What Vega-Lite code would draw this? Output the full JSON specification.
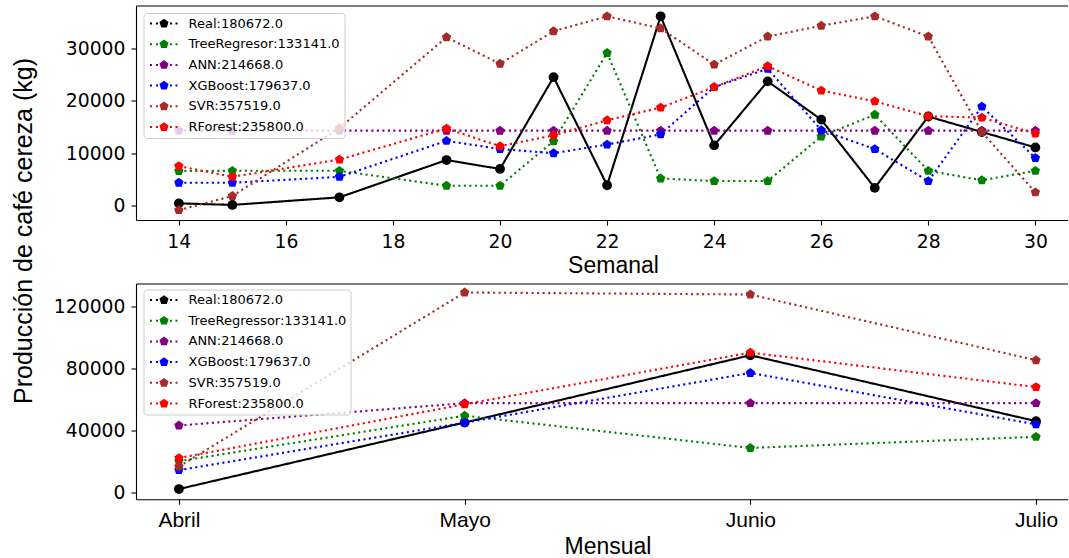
{
  "$schema": "https://vega.github.io/schema/vega-lite/v6.json",
  "padding": {"left": 10, "top": 5.5, "right": 2, "bottom": 58},
  "background": "white",
  "config": {
    "view": {"stroke": null},
    "axis": {"grid": false, "domainColor": "#000", "domainWidth": 1.1, "tickColor": "#000", "tickWidth": 1.1, "tickSize": 5, "labelColor": "#000", "titleColor": "#000", "labelFont": "DejaVu Sans", "labelFontSize": 18.8, "labelOverlap": false, "titleFont": "Liberation Sans", "titleFontWeight": "normal", "titleFontSize": 23},
    "legend": {"orient": "none", "labelFont": "DejaVu Sans", "labelFontSize": 13, "labelColor": "#000", "symbolSize": 64, "labelOffset": 28, "padding": 4, "rowPadding": 6.7, "strokeColor": "#cccccc", "strokeWidth": 1, "fillColor": "rgba(255,255,255,0.8)", "cornerRadius": 3, "symbolStrokeWidth": 0, "symbolOpacity": 1}
  },
  "bounds": "flush",
  "spacing": 63,
  "resolve": {"scale": {"color": "independent"}, "legend": {"color": "independent"}},
  "vconcat": [
    {
      "width": 931.5,
      "height": 214.5,
      "data": {"values": [
        {"semana": 14, "modelo": "Real:180672.0", "valor": 450},
        {"semana": 15, "modelo": "Real:180672.0", "valor": 150},
        {"semana": 17, "modelo": "Real:180672.0", "valor": 1600},
        {"semana": 19, "modelo": "Real:180672.0", "valor": 8700},
        {"semana": 20, "modelo": "Real:180672.0", "valor": 7000},
        {"semana": 21, "modelo": "Real:180672.0", "valor": 24500},
        {"semana": 22, "modelo": "Real:180672.0", "valor": 3900},
        {"semana": 23, "modelo": "Real:180672.0", "valor": 36100},
        {"semana": 24, "modelo": "Real:180672.0", "valor": 11500},
        {"semana": 25, "modelo": "Real:180672.0", "valor": 23700},
        {"semana": 26, "modelo": "Real:180672.0", "valor": 16400},
        {"semana": 27, "modelo": "Real:180672.0", "valor": 3400},
        {"semana": 28, "modelo": "Real:180672.0", "valor": 17000},
        {"semana": 29, "modelo": "Real:180672.0", "valor": 14050},
        {"semana": 30, "modelo": "Real:180672.0", "valor": 11100},
        {"semana": 14, "modelo": "TreeRegresor:133141.0", "valor": 6600},
        {"semana": 15, "modelo": "TreeRegresor:133141.0", "valor": 6650},
        {"semana": 17, "modelo": "TreeRegresor:133141.0", "valor": 6650},
        {"semana": 19, "modelo": "TreeRegresor:133141.0", "valor": 3800},
        {"semana": 20, "modelo": "TreeRegresor:133141.0", "valor": 3800},
        {"semana": 21, "modelo": "TreeRegresor:133141.0", "valor": 12300},
        {"semana": 22, "modelo": "TreeRegresor:133141.0", "valor": 29100},
        {"semana": 23, "modelo": "TreeRegresor:133141.0", "valor": 5200},
        {"semana": 24, "modelo": "TreeRegresor:133141.0", "valor": 4700},
        {"semana": 25, "modelo": "TreeRegresor:133141.0", "valor": 4700},
        {"semana": 26, "modelo": "TreeRegresor:133141.0", "valor": 13200},
        {"semana": 27, "modelo": "TreeRegresor:133141.0", "valor": 17350},
        {"semana": 28, "modelo": "TreeRegresor:133141.0", "valor": 6650},
        {"semana": 29, "modelo": "TreeRegresor:133141.0", "valor": 4850},
        {"semana": 30, "modelo": "TreeRegresor:133141.0", "valor": 6650},
        {"semana": 14, "modelo": "ANN:214668.0", "valor": 14300},
        {"semana": 15, "modelo": "ANN:214668.0", "valor": 14300},
        {"semana": 17, "modelo": "ANN:214668.0", "valor": 14300},
        {"semana": 19, "modelo": "ANN:214668.0", "valor": 14300},
        {"semana": 20, "modelo": "ANN:214668.0", "valor": 14300},
        {"semana": 21, "modelo": "ANN:214668.0", "valor": 14300},
        {"semana": 22, "modelo": "ANN:214668.0", "valor": 14300},
        {"semana": 23, "modelo": "ANN:214668.0", "valor": 14300},
        {"semana": 24, "modelo": "ANN:214668.0", "valor": 14300},
        {"semana": 25, "modelo": "ANN:214668.0", "valor": 14300},
        {"semana": 26, "modelo": "ANN:214668.0", "valor": 14300},
        {"semana": 27, "modelo": "ANN:214668.0", "valor": 14300},
        {"semana": 28, "modelo": "ANN:214668.0", "valor": 14300},
        {"semana": 29, "modelo": "ANN:214668.0", "valor": 14300},
        {"semana": 30, "modelo": "ANN:214668.0", "valor": 14300},
        {"semana": 14, "modelo": "XGBoost:179637.0", "valor": 4370},
        {"semana": 15, "modelo": "XGBoost:179637.0", "valor": 4370},
        {"semana": 17, "modelo": "XGBoost:179637.0", "valor": 5500},
        {"semana": 19, "modelo": "XGBoost:179637.0", "valor": 12350},
        {"semana": 20, "modelo": "XGBoost:179637.0", "valor": 10800},
        {"semana": 21, "modelo": "XGBoost:179637.0", "valor": 10000},
        {"semana": 22, "modelo": "XGBoost:179637.0", "valor": 11650},
        {"semana": 23, "modelo": "XGBoost:179637.0", "valor": 13600},
        {"semana": 24, "modelo": "XGBoost:179637.0", "valor": 22600},
        {"semana": 25, "modelo": "XGBoost:179637.0", "valor": 26100},
        {"semana": 26, "modelo": "XGBoost:179637.0", "valor": 14400},
        {"semana": 27, "modelo": "XGBoost:179637.0", "valor": 10800},
        {"semana": 28, "modelo": "XGBoost:179637.0", "valor": 4700},
        {"semana": 29, "modelo": "XGBoost:179637.0", "valor": 18900},
        {"semana": 30, "modelo": "XGBoost:179637.0", "valor": 9100},
        {"semana": 14, "modelo": "SVR:357519.0", "valor": -850},
        {"semana": 15, "modelo": "SVR:357519.0", "valor": 1850},
        {"semana": 17, "modelo": "SVR:357519.0", "valor": 14800},
        {"semana": 19, "modelo": "SVR:357519.0", "valor": 32100},
        {"semana": 20, "modelo": "SVR:357519.0", "valor": 27050},
        {"semana": 21, "modelo": "SVR:357519.0", "valor": 33250},
        {"semana": 22, "modelo": "SVR:357519.0", "valor": 36100},
        {"semana": 23, "modelo": "SVR:357519.0", "valor": 33800},
        {"semana": 24, "modelo": "SVR:357519.0", "valor": 26900},
        {"semana": 25, "modelo": "SVR:357519.0", "valor": 32250},
        {"semana": 26, "modelo": "SVR:357519.0", "valor": 34300},
        {"semana": 27, "modelo": "SVR:357519.0", "valor": 36100},
        {"semana": 28, "modelo": "SVR:357519.0", "valor": 32250},
        {"semana": 29, "modelo": "SVR:357519.0", "valor": 14050},
        {"semana": 30, "modelo": "SVR:357519.0", "valor": 2550},
        {"semana": 14, "modelo": "RForest:235800.0", "valor": 7550},
        {"semana": 15, "modelo": "RForest:235800.0", "valor": 5500},
        {"semana": 17, "modelo": "RForest:235800.0", "valor": 8800},
        {"semana": 19, "modelo": "RForest:235800.0", "valor": 14700},
        {"semana": 20, "modelo": "RForest:235800.0", "valor": 11350},
        {"semana": 21, "modelo": "RForest:235800.0", "valor": 13400},
        {"semana": 22, "modelo": "RForest:235800.0", "valor": 16300},
        {"semana": 23, "modelo": "RForest:235800.0", "valor": 18700},
        {"semana": 24, "modelo": "RForest:235800.0", "valor": 22600},
        {"semana": 25, "modelo": "RForest:235800.0", "valor": 26600},
        {"semana": 26, "modelo": "RForest:235800.0", "valor": 21950},
        {"semana": 27, "modelo": "RForest:235800.0", "valor": 19900},
        {"semana": 28, "modelo": "RForest:235800.0", "valor": 17050},
        {"semana": 29, "modelo": "RForest:235800.0", "valor": 16800},
        {"semana": 30, "modelo": "RForest:235800.0", "valor": 13750}
      ]},
      "layer": [
        {
          "mark": {"type": "line", "strokeWidth": 2.1, "strokeCap": "butt"},
          "encoding": {
            "x": {"field": "semana", "type": "quantitative", "scale": {"domain": [13.2, 30.6], "nice": false, "zero": false},
                  "axis": {"orient": "bottom", "values": [14, 16, 18, 20, 22, 24, 26, 28, 30], "title": "Semanal", "titleX": 477, "titleY": 52, "titleBaseline": "alphabetic", "labelPadding": 7, "labelFlush": false}},
            "y": {"field": "valor", "type": "quantitative", "scale": {"domain": [-2725, 38155], "nice": false, "zero": false},
                  "axis": {"orient": "left", "values": [0, 10000, 20000, 30000], "format": "d", "labelPadding": 6, "title": "Producción de café cereza (kg)", "titleFontSize": 25, "titleX": -105, "titleY": 225, "titleAlign": "center", "titleBaseline": "alphabetic", "titleAngle": -90}},
            "detail": {"field": "modelo", "type": "nominal"},
            "stroke": {"condition": [
              {"test": "indexof(datum.modelo,'Real')===0", "value": "#000000"},
              {"test": "indexof(datum.modelo,'Tree')===0", "value": "#008000"},
              {"test": "indexof(datum.modelo,'ANN')===0", "value": "#800080"},
              {"test": "indexof(datum.modelo,'XGB')===0", "value": "#0000ff"},
              {"test": "indexof(datum.modelo,'SVR')===0", "value": "#a52a2a"}], "value": "#ff0000"},
            "strokeDash": {"condition": {"test": "indexof(datum.modelo,'Real')===0", "value": [1, 0]}, "value": [2.1, 3.4]}
          }
        },
        {
          "mark": {"type": "point", "filled": true, "opacity": 1, "size": 96, "strokeWidth": 0},
          "encoding": {
            "x": {"field": "semana", "type": "quantitative", "axis": {"orient": "top", "labels": false, "ticks": false, "title": null, "domainWidth": 1.1}},
            "y": {"field": "valor", "type": "quantitative"},
            "color": {"field": "modelo", "type": "nominal",
                      "scale": {"domain": ["Real:180672.0", "TreeRegresor:133141.0", "ANN:214668.0", "XGBoost:179637.0", "SVR:357519.0", "RForest:235800.0"], "range": ["#000000", "#008000", "#800080", "#0000ff", "#a52a2a", "#ff0000"]},
                      "legend": {"title": null, "orient": "none", "legendX": 7.5, "legendY": 7.5,
                        "symbolType": "M-1,-0.25H-0.5V0.25H-1ZM0.5,-0.25H1V0.25H0.5ZM4,-0.25H4.5V0.25H4ZM5.375,-0.25H5.875V0.25H5.375ZM2.5,-1.2L3.641,-0.371L3.205,0.971L1.795,0.971L1.359,-0.371Z"}},
            "shape": {"condition": {"test": "indexof(datum.modelo,'Real')===0", "value": "circle"}, "value": "M0,-1L0.951,-0.309L0.588,0.809L-0.588,0.809L-0.951,-0.309Z"}
          }
        }
      ]
    },
    {
      "width": 931.5,
      "height": 215.7,
      "data": {"values": [
        {"mes": "Abril", "modelo": "Real:180672.0", "valor": 2500},
        {"mes": "Mayo", "modelo": "Real:180672.0", "valor": 45400},
        {"mes": "Junio", "modelo": "Real:180672.0", "valor": 88800},
        {"mes": "Julio", "modelo": "Real:180672.0", "valor": 46300},
        {"mes": "Abril", "modelo": "TreeRegressor:133141.0", "valor": 20500},
        {"mes": "Mayo", "modelo": "TreeRegressor:133141.0", "valor": 49800},
        {"mes": "Junio", "modelo": "TreeRegressor:133141.0", "valor": 29000},
        {"mes": "Julio", "modelo": "TreeRegressor:133141.0", "valor": 36200},
        {"mes": "Abril", "modelo": "ANN:214668.0", "valor": 43500},
        {"mes": "Mayo", "modelo": "ANN:214668.0", "valor": 57900},
        {"mes": "Junio", "modelo": "ANN:214668.0", "valor": 57900},
        {"mes": "Julio", "modelo": "ANN:214668.0", "valor": 57900},
        {"mes": "Abril", "modelo": "XGBoost:179637.0", "valor": 14700},
        {"mes": "Mayo", "modelo": "XGBoost:179637.0", "valor": 45300},
        {"mes": "Junio", "modelo": "XGBoost:179637.0", "valor": 77400},
        {"mes": "Julio", "modelo": "XGBoost:179637.0", "valor": 44200},
        {"mes": "Abril", "modelo": "SVR:357519.0", "valor": 17000},
        {"mes": "Mayo", "modelo": "SVR:357519.0", "valor": 129300},
        {"mes": "Junio", "modelo": "SVR:357519.0", "valor": 128000},
        {"mes": "Julio", "modelo": "SVR:357519.0", "valor": 85600},
        {"mes": "Abril", "modelo": "RForest:235800.0", "valor": 22500},
        {"mes": "Mayo", "modelo": "RForest:235800.0", "valor": 57200},
        {"mes": "Junio", "modelo": "RForest:235800.0", "valor": 90500},
        {"mes": "Julio", "modelo": "RForest:235800.0", "valor": 68300}
      ]},
      "layer": [
        {
          "mark": {"type": "line", "strokeWidth": 2.1, "strokeCap": "butt"},
          "encoding": {
            "x": {"field": "mes", "type": "ordinal", "sort": ["Abril", "Mayo", "Junio", "Julio"], "scale": {"type": "point", "padding": 0.1302, "align": 0.577},
                  "axis": {"orient": "bottom", "title": "Mensual", "titleX": 471.5, "titleY": 54, "titleBaseline": "alphabetic", "labelAngle": 0, "labelFont": "Liberation Sans", "labelFontSize": 21, "labelPadding": 5}},
            "y": {"field": "valor", "type": "quantitative", "scale": {"domain": [-4065, 135100], "nice": false, "zero": false},
                  "axis": {"orient": "left", "values": [0, 20000, 40000, 60000, 80000, 100000, 120000], "format": "d", "labelPadding": 6, "title": null}},
            "detail": {"field": "modelo", "type": "nominal"},
            "stroke": {"condition": [
              {"test": "indexof(datum.modelo,'Real')===0", "value": "#000000"},
              {"test": "indexof(datum.modelo,'Tree')===0", "value": "#008000"},
              {"test": "indexof(datum.modelo,'ANN')===0", "value": "#800080"},
              {"test": "indexof(datum.modelo,'XGB')===0", "value": "#0000ff"},
              {"test": "indexof(datum.modelo,'SVR')===0", "value": "#a52a2a"}], "value": "#ff0000"},
            "strokeDash": {"condition": {"test": "indexof(datum.modelo,'Real')===0", "value": [1, 0]}, "value": [2.1, 3.4]}
          }
        },
        {
          "mark": {"type": "point", "filled": true, "opacity": 1, "size": 96, "strokeWidth": 0},
          "encoding": {
            "x": {"field": "mes", "type": "ordinal", "sort": ["Abril", "Mayo", "Junio", "Julio"], "axis": {"orient": "top", "labels": false, "ticks": false, "title": null}},
            "y": {"field": "valor", "type": "quantitative"},
            "color": {"field": "modelo", "type": "nominal",
                      "scale": {"domain": ["Real:180672.0", "TreeRegressor:133141.0", "ANN:214668.0", "XGBoost:179637.0", "SVR:357519.0", "RForest:235800.0"], "range": ["#000000", "#008000", "#800080", "#0000ff", "#a52a2a", "#ff0000"]},
                      "legend": {"title": null, "orient": "none", "legendX": 7.5, "legendY": 6,
                        "symbolType": "M-1,-0.25H-0.5V0.25H-1ZM0.5,-0.25H1V0.25H0.5ZM4,-0.25H4.5V0.25H4ZM5.375,-0.25H5.875V0.25H5.375ZM2.5,-1.2L3.641,-0.371L3.205,0.971L1.795,0.971L1.359,-0.371Z"}},
            "shape": {"condition": {"test": "indexof(datum.modelo,'Real')===0", "value": "circle"}, "value": "M0,-1L0.951,-0.309L0.588,0.809L-0.588,0.809L-0.951,-0.309Z"}
          }
        }
      ]
    }
  ]
}
